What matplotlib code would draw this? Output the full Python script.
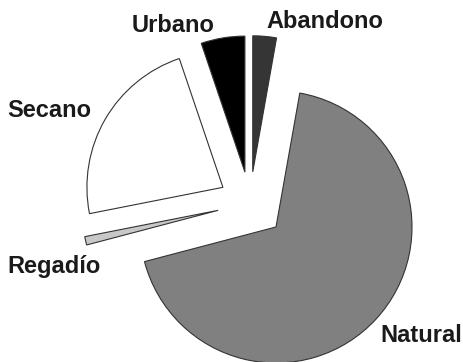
import matplotlib.pyplot as plt

# categories in drawing order (counter-clockwise from 12 o'clock)
usos = ["Urbano", "Secano", "Regadío", "Natural", "Abandono"]
porcentaje = [5.2, 22.9, 1.0, 68.1, 2.8]
colores = ["#000000", "#ffffff", "#c8c8c8", "#808080", "#353535"]
separacion = [0.23, 0.23, 0.24, 0.26, 0.23]

# label positions in pixels (x centre from left, baseline y from top)
etiquetas_px = {
    "Urbano": (173, 32),
    "Abandono": (325, 28),
    "Secano": (49, 117),
    "Natural": (421, 342),
    "Regadío": (54, 273),
}

W, H = 464, 362
fig = plt.figure(figsize=(W / 100, H / 100), dpi=100)
ax = fig.add_axes([0, 0, 1, 1])

wedges, _ = ax.pie(porcentaje, colors=colores, explode=separacion,
                   startangle=90, counterclock=True,
                   wedgeprops=dict(edgecolor="#333333", linewidth=0.8))

# map data units to pixels: centre at (250, 203), radius 136 px
cx, cy, r = 250, 203, 136
ax.set_xlim(-cx / r, (W - cx) / r)
ax.set_ylim(-(H - cy) / r, cy / r)
ax.set_aspect("auto")
ax.axis("off")

for nombre, (px, py) in etiquetas_px.items():
    fig.text(px / W, 1 - py / H, nombre, ha="center", va="baseline",
             fontsize=17, fontweight="bold", family="Liberation Sans",
             color="#1a1a1a")

fig.savefig("out.png", dpi=100)
